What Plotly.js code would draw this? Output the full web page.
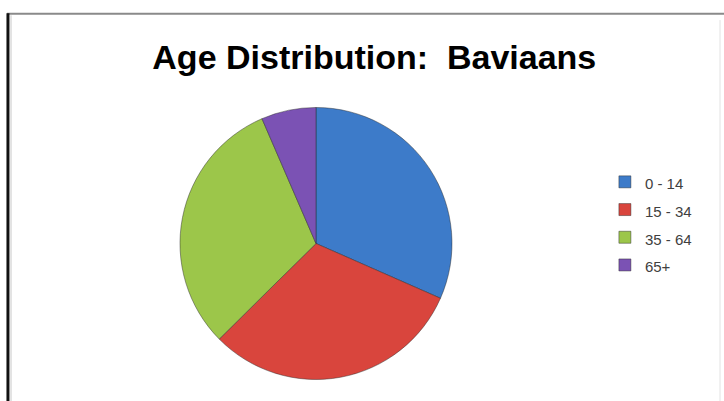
<!DOCTYPE html>
<html>
<head>
<meta charset="utf-8">
<script src="https://cdn.plot.ly/plotly-3.0.1.min.js"></script>
<style>
  html, body { margin: 0; padding: 0; background: #fff; }
  #chart { width: 724px; height: 401px; }
</style>
</head>
<body>
<div id="chart"></div>
<script>
// Age groups and their share (%)
const ageGroups = ['0 - 14', '15 - 34', '35 - 64', '65+'];
const shares = [31.6, 31.0, 30.9, 6.5];
const sliceColors = ['#3d7bc9', '#d9453d', '#9cc64a', '#7b52b4'];
const chartTitle = 'Age Distribution:\u00a0 Baviaans';

// legend labels get a smaller font than the legend itself so the rows sit further apart
const legendLabels = ageGroups.map(g => `<span style="font-size:15px">${g}</span>`);

const trace = {
    type: 'pie',
    labels: legendLabels,
    values: shares,
    sort: false,
    direction: 'clockwise',
    rotation: 0,
    textinfo: 'none',
    hoverinfo: 'skip',
    marker: {
        colors: sliceColors,
        line: { color: 'rgba(40,40,40,0.45)', width: 1 }
    },
    domain: { x: [0.2486, 0.6243], y: [0.0536, 0.732] }
};

// frame lines of the original screenshot
const frame = [
    { type: 'line', xref: 'paper', yref: 'paper', x0: 0.0097, x1: 1, y0: 0.966, y1: 0.966,
      line: { color: '#8a8a8a', width: 2 } },
    { type: 'line', xref: 'paper', yref: 'paper', x0: 0.0110, x1: 0.0110, y0: 0, y1: 0.967,
      line: { color: '#111', width: 3 } },
    { type: 'line', xref: 'paper', yref: 'paper', x0: 0.0152, x1: 0.0152, y0: 0, y1: 0.962,
      line: { color: '#c8c8c8', width: 1 } },
    { type: 'line', xref: 'paper', yref: 'paper', x0: 0.9945, x1: 0.9945, y0: 0, y1: 0.95,
      line: { color: '#e2e2e2', width: 1 } }
];

const layout = {
    width: 724,
    height: 401,
    margin: { l: 0, r: 0, t: 0, b: 0 },
    paper_bgcolor: '#fff',
    title: {
        text: chartTitle,
        x: 0.517,
        xanchor: 'center',
        y: 1 - 57 / 401,
        yanchor: 'middle',
        font: { family: '"Liberation Sans", Arial, sans-serif', size: 34, color: '#000', weight: 'bold' }
    },
    showlegend: true,
    legend: {
        x: 0.8355,
        xanchor: 'left',
        y: 1 - 163 / 401,
        yanchor: 'top',
        font: { family: '"Liberation Sans", Arial, sans-serif', size: 19, color: '#404040' },
        bgcolor: 'rgba(0,0,0,0)'
    },
    shapes: frame
};

Plotly.newPlot('chart', [trace], layout, { staticPlot: true });
</script>
</body>
</html>
